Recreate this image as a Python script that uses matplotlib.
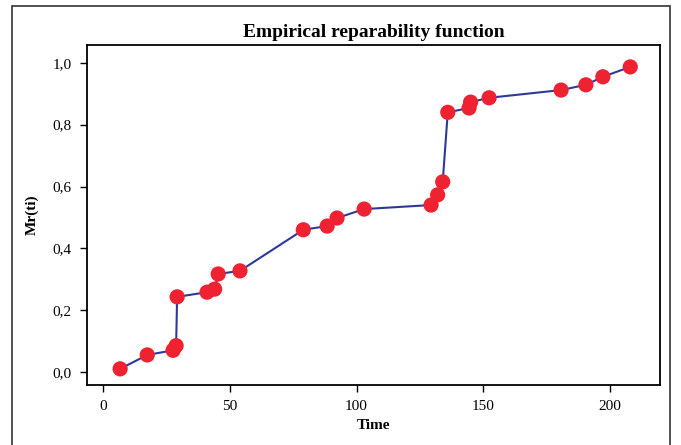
import matplotlib.pyplot as plt
from matplotlib.patches import Rectangle
from matplotlib.ticker import FuncFormatter

# data
time = [6.7, 17.4, 27.6, 28.8, 29.2, 41.0, 44.0, 45.4, 54.0, 79.0, 88.4, 92.3,
        103.0, 129.4, 132.0, 134.0, 136.0, 144.4, 145.0, 152.3, 180.7, 190.5,
        197.2, 208.0]
mr = [0.010, 0.055, 0.070, 0.085, 0.243, 0.258, 0.268, 0.317, 0.327, 0.460,
      0.472, 0.498, 0.527, 0.540, 0.573, 0.615, 0.840, 0.854, 0.873, 0.887,
      0.912, 0.929, 0.955, 0.987]
x_ticks = [0, 50, 100, 150, 200]
y_ticks = [0.0, 0.2, 0.4, 0.6, 0.8, 1.0]

plt.rcParams['font.family'] = ['Liberation Serif', 'DejaVu Serif']

fig = plt.figure(figsize=(6.81, 4.45), dpi=100)
ax = fig.add_axes([0.128, 0.135, 0.841, 0.764])

ax.plot(time, mr, color='#2b3a9a', linewidth=1.5, zorder=2)
ax.scatter(time, mr, s=120, color='#ee2230', edgecolors='none', zorder=3)

ax.set_xlim(-6.3, 219.7)
ax.set_ylim(-0.042, 1.058)
ax.set_xticks(x_ticks)
ax.set_yticks(y_ticks)
ax.yaxis.set_major_formatter(FuncFormatter(lambda v, p: f'{v:.1f}'.replace('.', ',')))
ax.tick_params(direction='out', length=5, width=1, labelsize=11, pad=6)
for s in ax.spines.values():
    s.set_linewidth(1.3)

ax.set_title('Empirical reparability function', fontsize=14, fontweight='bold', pad=6)
ax.set_xlabel('Time', fontsize=11, fontweight='bold', labelpad=4)
ax.set_ylabel('Mr(ti)', fontsize=11, fontweight='bold', labelpad=10)

# outer frame around the figure
fig.patches.append(Rectangle((12 / 681, -0.05), 658 / 681, 1.05 - 6 / 445,
                             transform=fig.transFigure, fill=False,
                             edgecolor='#333333', linewidth=1.2))

fig.savefig('out.png', dpi=100)
